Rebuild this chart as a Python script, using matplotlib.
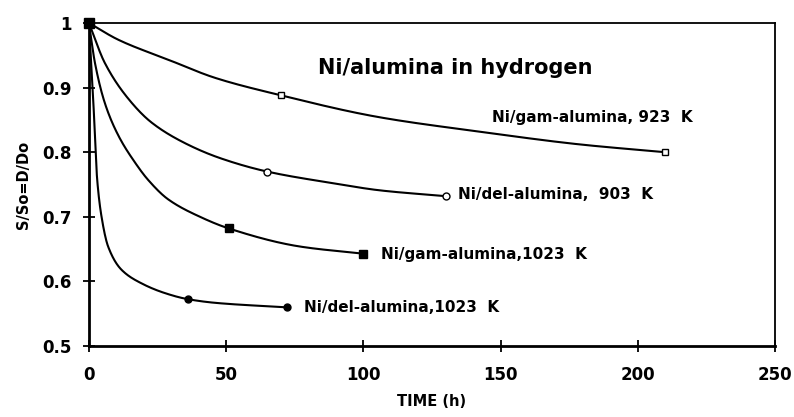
import matplotlib
matplotlib.use("Agg")
import matplotlib.pyplot as plt
import numpy as np

plt.rcParams["font.family"] = ["DejaVu Sans"]
plt.rcParams["font.weight"] = "bold"

# deactivation curves, time (h) vs S/So
gam923_t = [0, 10.7, 29, 46, 69, 106, 142, 179, 210]
gam923_s = [1.0, 0.974, 0.943, 0.915, 0.889, 0.854, 0.832, 0.812, 0.800]
gam923_mark_t = [70, 210]
gam923_mark_s = [0.889, 0.800]

del903_t = [0, 5.8, 14.3, 22.8, 35, 47.7, 65, 89, 106, 130]
del903_s = [1.0, 0.938, 0.883, 0.846, 0.814, 0.791, 0.770, 0.752, 0.741, 0.732]
del903_mark_t = [65, 130]
del903_mark_s = [0.770, 0.732]

gam1023_t = [0, 2.2, 5.8, 10.7, 16.8, 21.6, 28.9, 40.5, 51, 77, 100]
gam1023_s = [1.0, 0.938, 0.876, 0.826, 0.784, 0.757, 0.727, 0.700, 0.682, 0.654, 0.643]
gam1023_mark_t = [51, 100]
gam1023_mark_s = [0.682, 0.643]

del1023_t = [0, 1.6, 3.0, 4.6, 7.0, 11.9, 19.2, 27.7, 35.6, 45.9, 72]
del1023_s = [1.0, 0.878, 0.758, 0.700, 0.654, 0.618, 0.597, 0.582, 0.573, 0.567, 0.560]
del1023_mark_t = [36, 72]
del1023_mark_s = [0.573, 0.560]


def pchip_line(x, y, n=500):
    # monotone cubic through the read points, only for drawing a smooth trace
    x = np.asarray(x, float)
    y = np.asarray(y, float)
    h = np.diff(x)
    d = np.diff(y) / h
    m = np.zeros_like(y)
    for k in range(1, len(x) - 1):
        if d[k - 1] * d[k] > 0:
            w1 = 2 * h[k] + h[k - 1]
            w2 = h[k] + 2 * h[k - 1]
            m[k] = (w1 + w2) / (w1 / d[k - 1] + w2 / d[k])
    m[0] = d[0]
    m[-1] = d[-1]
    xs = np.linspace(x[0], x[-1], n)
    idx = np.clip(np.searchsorted(x, xs) - 1, 0, len(x) - 2)
    t = (xs - x[idx]) / h[idx]
    h00 = 2 * t**3 - 3 * t**2 + 1
    h10 = t**3 - 2 * t**2 + t
    h01 = -2 * t**3 + 3 * t**2
    h11 = t**3 - t**2
    ys = h00 * y[idx] + h10 * h[idx] * m[idx] + h01 * y[idx + 1] + h11 * h[idx] * m[idx + 1]
    return xs, ys


fig = plt.figure(figsize=(7.94, 4.17), dpi=100)
ax = fig.add_axes([0.112, 0.170, 0.864, 0.775])

lw = 1.5
for t, s in [(gam923_t, gam923_s), (del903_t, del903_s),
             (gam1023_t, gam1023_s), (del1023_t, del1023_s)]:
    xs, ys = pchip_line(t, s)
    ax.plot(xs, ys, "k-", lw=lw)

ax.plot(gam923_mark_t, gam923_mark_s, "ks", mfc="white", ms=5, mew=1.0)
ax.plot(del903_mark_t, del903_mark_s, "ko", mfc="white", ms=5, mew=1.0)
ax.plot(gam1023_mark_t, gam1023_mark_s, "ks", ms=5.5)
ax.plot(del1023_mark_t, del1023_mark_s, "ko", ms=5)
ax.plot([0], [1.0], "ks", ms=7, clip_on=False)

ax.set_xlim(0, 250)
ax.set_ylim(0.5, 1.0)
ax.set_xticks([0, 50, 100, 150, 200, 250])
ax.set_yticks([0.5, 0.6, 0.7, 0.8, 0.9, 1.0])
ax.set_yticklabels(["0.5", "0.6", "0.7", "0.8", "0.9", "1"])
ax.tick_params(direction="inout", length=9, width=1.3, labelsize=12)
ax.tick_params(axis="y", pad=8)
ax.tick_params(axis="x", pad=10)
for lab in ax.get_xticklabels() + ax.get_yticklabels():
    lab.set_fontweight("bold")
ax.spines["left"].set_linewidth(2.0)
ax.spines["bottom"].set_linewidth(2.0)
ax.spines["top"].set_linewidth(1.3)
ax.spines["right"].set_linewidth(1.3)

ax.set_xlabel("TIME (h)", fontsize=10.5, fontweight="bold", labelpad=7)
ax.set_ylabel("S/So=D/Do", fontsize=10.5, fontweight="bold", labelpad=8)

ax.text(83.5, 0.930, "Ni/alumina in hydrogen", fontsize=15, fontweight="bold", va="center")
lab_kw = dict(fontsize=11, fontweight="bold", va="center")
ax.text(147, 0.854, "Ni/gam-alumina, 923  K", **lab_kw)
ax.text(134.5, 0.734, "Ni/del-alumina,  903  K", **lab_kw)
ax.text(106.5, 0.642, "Ni/gam-alumina,1023  K", **lab_kw)
ax.text(78.5, 0.560, "Ni/del-alumina,1023  K", **lab_kw)

fig.savefig("out.png", dpi=100)
